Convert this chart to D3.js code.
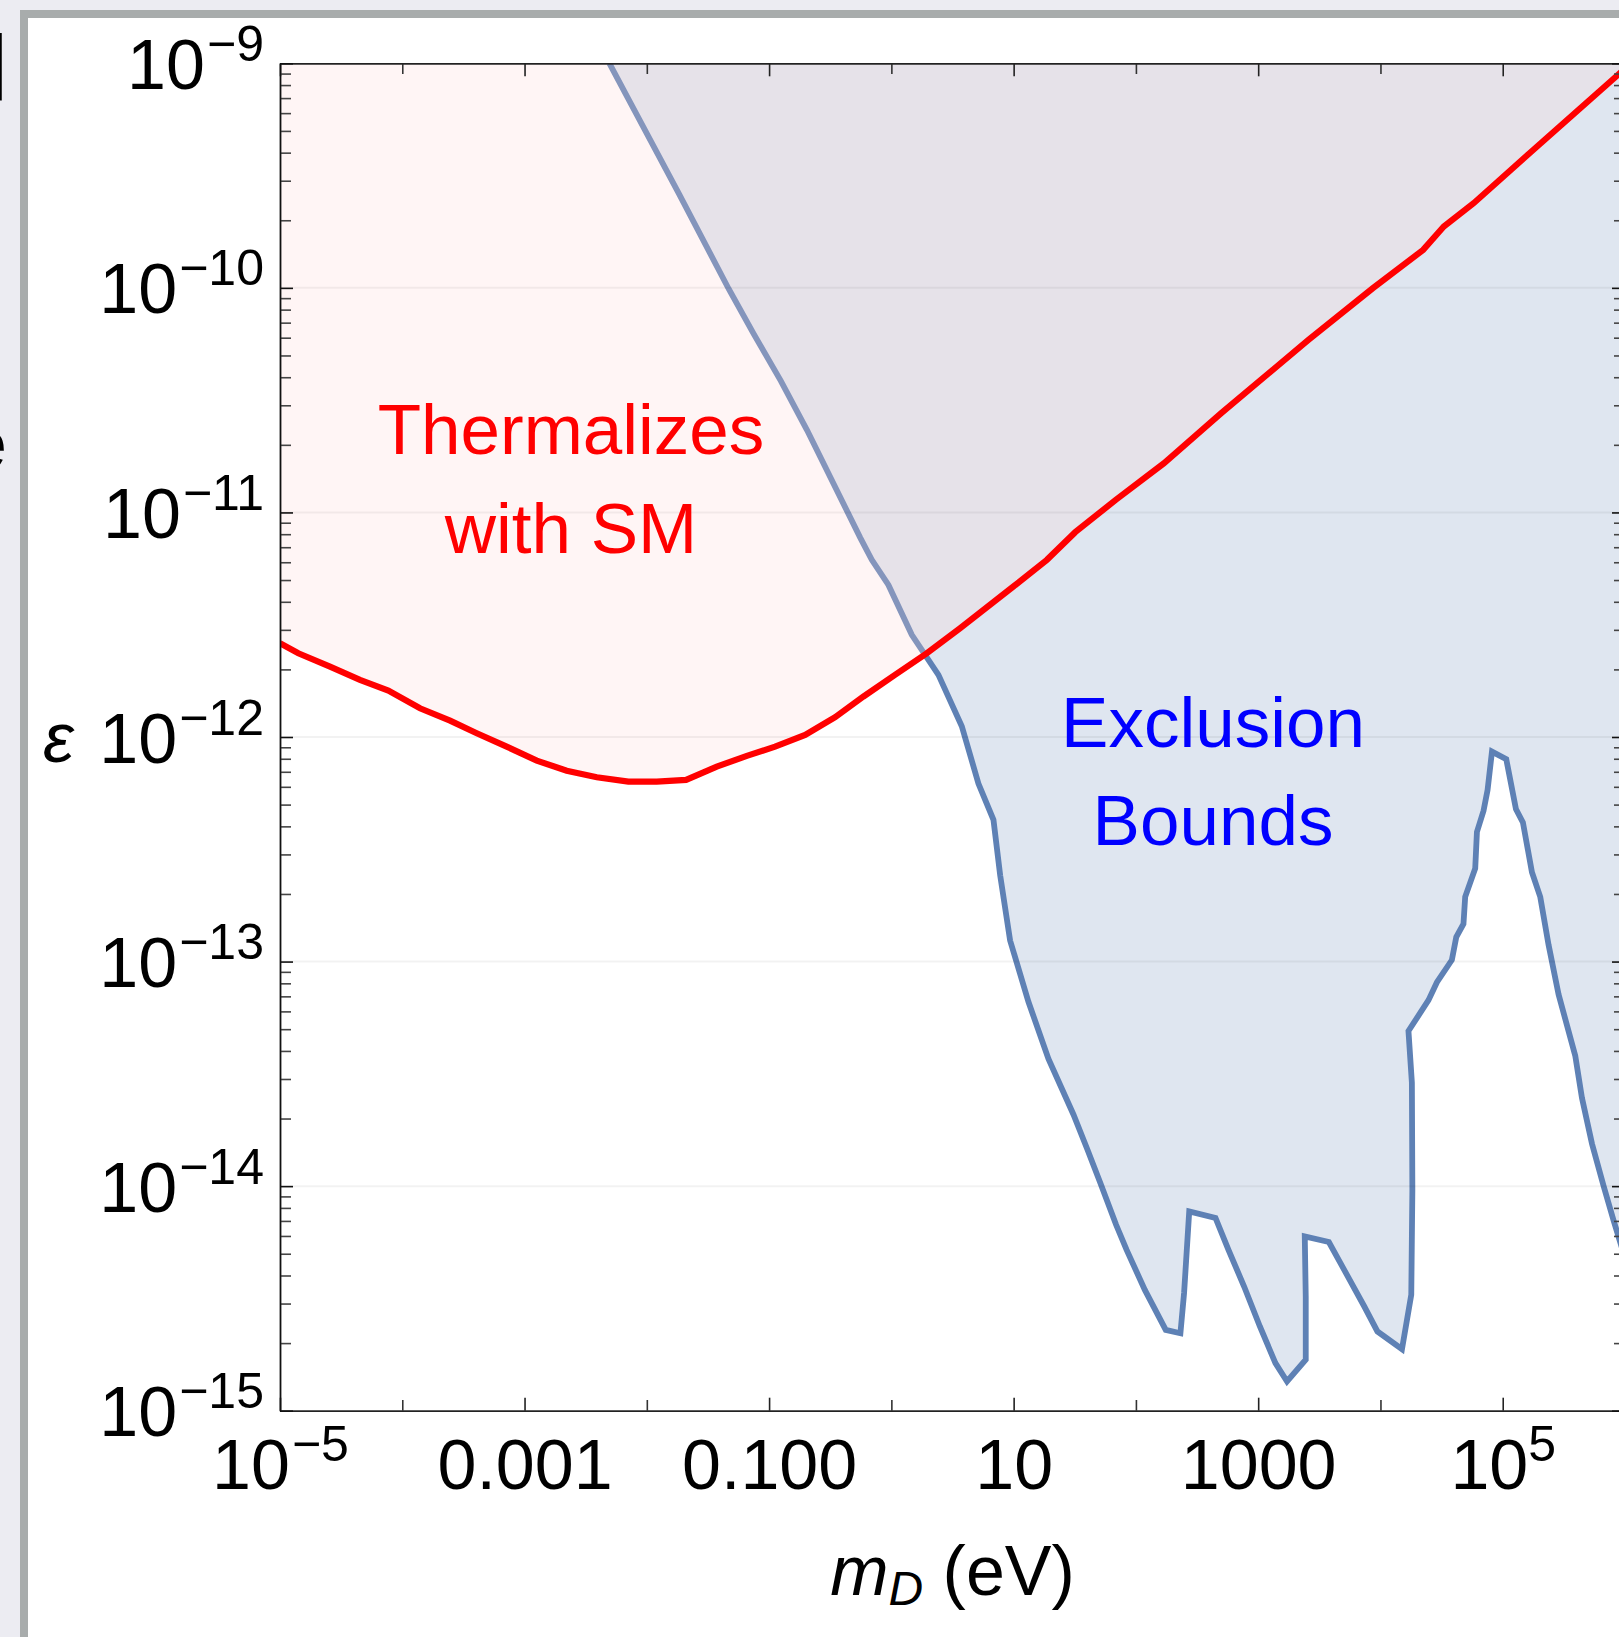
<!DOCTYPE html>
<html>
<head>
<meta charset="utf-8">
<script src="https://cdn.jsdelivr.net/npm/d3@7"></script>
<style>
  html, body { margin: 0; padding: 0; background: #ececf2; overflow: hidden; }
  svg { display: block; }
  text { font-family: "Liberation Sans", Arial, Helvetica, sans-serif; }
</style>
</head>
<body>
<div id="chart"></div>
<script>
// thermalization curve as log10 values
var thermMassExp = [-5.000, -4.850, -4.591, -4.346, -4.114, -3.855, -3.609, -3.391, -3.146, -2.900,
                    -2.655, -2.409, -2.151, -1.919, -1.679, -1.428, -1.182, -0.951, -0.705, -0.460,
                    -0.229, 0.031, 0.290, 0.562, 0.998, 1.272, 1.504, 1.835, 2.229, 2.698,
                    3.411, 3.937, 4.349, 4.518, 4.762, 5.249, 5.925, 6.000];
var thermEpsExp = [-11.582, -11.627, -11.687, -11.746, -11.793, -11.872, -11.927, -11.983, -12.043, -12.105,
                   -12.150, -12.179, -12.199, -12.199, -12.191, -12.132, -12.084, -12.043, -11.991, -11.912,
                   -11.820, -11.723, -11.627, -11.516, -11.330, -11.211, -11.088, -10.944, -10.781, -10.558,
                   -10.232, -10.002, -9.831, -9.727, -9.623, -9.386, -9.060, -9.024];

// exclusion bound, log10 values
var boundMassExp = [-2.306, -2.160, -1.740, -1.330, -1.126, -0.903, -0.690, -0.255, -0.160,
                    -0.024, 0.167, 0.385, 0.576, 0.712, 0.835, 0.890, 0.971, 1.121, 1.285,
                    1.489, 1.604, 1.710, 1.838, 1.924, 2.073, 2.244, 2.364, 2.394, 2.436,
                    2.651, 2.757, 2.885, 3.014, 3.141, 3.236, 3.389, 3.389, 3.381, 3.578,
                    3.718, 3.868, 3.975, 4.176, 4.252, 4.261, 4.257, 4.229, 4.393, 4.462,
                    4.584, 4.620, 4.679, 4.693, 4.775, 4.789, 4.843, 4.876, 4.912, 5.029,
                    5.108, 5.165, 5.239, 5.307, 5.375, 5.457, 5.593, 5.648, 5.730, 5.825,
                    5.906, 6.000];
var boundEpsExp = [-9.000, -9.149, -9.578, -10.005, -10.205, -10.415, -10.633, -11.112, -11.211,
                   -11.323, -11.545, -11.723, -11.952, -12.207, -12.369, -12.616, -12.906, -13.179, -13.434,
                   -13.681, -13.838, -13.987, -14.172, -14.284, -14.462, -14.640, -14.655, -14.476, -14.113,
                   -14.142, -14.284, -14.447, -14.625, -14.788, -14.870, -14.773, -14.492, -14.224, -14.249,
                   -14.387, -14.536, -14.647, -14.726, -14.484, -14.016, -13.539, -13.309, -13.172, -13.092,
                   -12.993, -12.891, -12.832, -12.712, -12.585, -12.423, -12.329, -12.236, -12.065, -12.099,
                   -12.321, -12.380, -12.602, -12.712, -12.926, -13.147, -13.419, -13.607, -13.811, -13.999,
                   -14.152, -14.320];

var xTickVals = [1e-5, 1e-3, 1e-1, 1e1, 1e3, 1e5];
var xTickLabels = ["10^\u22125", "0.001", "0.100", "10", "1000", "10^5"];
var yTickVals = [1e-9, 1e-10, 1e-11, 1e-12, 1e-13, 1e-14, 1e-15];
var yTickLabels = ["10^\u22129", "10^\u221210", "10^\u221211", "10^\u221212", "10^\u221213", "10^\u221214", "10^\u221215"];

var W = 1619, H = 1637;
var plotL = 280, plotR = 1625, plotT = 63.3, plotB = 1410.7;
var fontSize = 70, supSize = 50, supRise = 28;

var x = d3.scaleLog().domain([1e-5, 1e6]).range([plotL, plotR]);
var y = d3.scaleLog().domain([1e-15, 1e-9]).range([plotB, plotT]);

var thermData = thermMassExp.map(function(m, i) { return [Math.pow(10, m), Math.pow(10, thermEpsExp[i])]; });
var boundData = boundMassExp.map(function(m, i) { return [Math.pow(10, m), Math.pow(10, boundEpsExp[i])]; });

var svg = d3.select("#chart").append("svg")
    .attr("width", W)
    .attr("height", H);

var defs = svg.append("defs");
defs.append("clipPath").attr("id", "plotClip")
    .append("rect")
    .attr("x", plotL).attr("y", plotT)
    .attr("width", plotR - plotL).attr("height", plotB - plotT);
defs.append("clipPath").attr("id", "stripClip")
    .append("rect")
    .attr("x", 0).attr("y", 0).attr("width", 19).attr("height", H);

// page background and panel frame
svg.append("rect").attr("width", W).attr("height", H).attr("fill", "#ececf2");
svg.append("rect").attr("x", 20).attr("y", 10).attr("width", W).attr("height", H).attr("fill", "#a8acac");
svg.append("rect").attr("x", 28).attr("y", 18).attr("width", W).attr("height", H).attr("fill", "#ffffff");

// bits of the neighbouring panel that are cut off
var strip = svg.append("g").attr("clip-path", "url(#stripClip)").attr("fill", "#000");
strip.append("text").attr("x", -12.6).attr("y", 100).attr("font-size", 92).text("l");
strip.append("text").attr("x", -32).attr("y", 468).attr("font-size", 70).text("e");

var plot = svg.append("g").attr("clip-path", "url(#plotClip)");

var areaAbove = d3.area()
    .x(function(d) { return x(d[0]); })
    .y0(y(1e-9))
    .y1(function(d) { return y(d[1]); });

var line = d3.line()
    .x(function(d) { return x(d[0]); })
    .y(function(d) { return y(d[1]); });

// exclusion region
plot.append("path")
    .datum(boundData)
    .attr("d", areaAbove)
    .attr("fill", "#5e81b5")
    .attr("fill-opacity", 0.2);

plot.append("path")
    .datum(boundData)
    .attr("d", line)
    .attr("fill", "none")
    .attr("stroke", "#5e81b5")
    .attr("stroke-width", 5.8);

// thermalization region
plot.append("path")
    .datum(thermData)
    .attr("d", areaAbove)
    .attr("fill", "rgb(255,213,213)")
    .attr("fill-opacity", 0.24);

// grid lines
plot.selectAll(".grid")
    .data(yTickVals.slice(1, -1))
    .enter().append("line")
    .attr("class", "grid")
    .attr("x1", plotL).attr("x2", plotR)
    .attr("y1", function(d) { return y(d); })
    .attr("y2", function(d) { return y(d); })
    .attr("stroke", "#000")
    .attr("stroke-opacity", 0.05)
    .attr("stroke-width", 2);

plot.append("path")
    .datum(thermData)
    .attr("d", line)
    .attr("fill", "none")
    .attr("stroke", "#ff0000")
    .attr("stroke-width", 6.2);

// ticks
var decades = d3.range(-5, 7).map(function(e) { return Math.pow(10, e); });
var xMinor = decades.filter(function(d) { return xTickVals.indexOf(d) < 0; });
var yMinor = [];
d3.range(-15, -9).forEach(function(e) {
    d3.range(2, 10).forEach(function(k) { yMinor.push(k * Math.pow(10, e)); });
});

function styleAxis(g, color) {
    g.attr("font-family", null).attr("font-size", null).style("color", color);
    g.selectAll("line").attr("stroke-width", 1.6);
    g.select(".domain").attr("stroke-width", 1.5);
}

function fillLabel(sel, label) {
    var parts = label.split("^");
    sel.text(null);
    sel.append("tspan").text(parts[0]);
    if (parts[1]) {
        sel.append("tspan")
            .attr("font-size", supSize)
            .attr("dx", parts[1].charAt(0) == "\u2212" ? 2 : 0)
            .attr("dy", -supRise)
            .text(parts[1]);
    }
}

var bottomMinor = svg.append("g").attr("transform", "translate(0," + plotB + ")")
    .call(d3.axisBottom(x).tickValues(xMinor).tickSizeInner(-10.7).tickSizeOuter(0).tickFormat(""));
styleAxis(bottomMinor, "#333");

var bottomMajor = svg.append("g").attr("transform", "translate(0," + plotB + ")")
    .call(d3.axisBottom(x).tickValues(xTickVals).tickSizeInner(-13).tickSizeOuter(0)
        .tickFormat(function(d, i) { return xTickLabels[i]; }));
styleAxis(bottomMajor, "#222");
bottomMajor.selectAll(".tick text")
    .attr("y", 78.5).attr("dy", null)
    .attr("font-size", fontSize).attr("fill", "#000")
    .each(function(d, i) { fillLabel(d3.select(this), xTickLabels[i]); });

var topMinor = svg.append("g").attr("transform", "translate(0," + plotT + ")")
    .call(d3.axisTop(x).tickValues(xMinor).tickSizeInner(-10.7).tickSizeOuter(0).tickFormat(""));
styleAxis(topMinor, "#333");
var topMajor = svg.append("g").attr("transform", "translate(0," + plotT + ")")
    .call(d3.axisTop(x).tickValues(xTickVals).tickSizeInner(-13).tickSizeOuter(0).tickFormat(""));
styleAxis(topMajor, "#222");

var leftMinor = svg.append("g").attr("transform", "translate(" + plotL + ",0)")
    .call(d3.axisLeft(y).tickValues(yMinor).tickSizeInner(-11).tickSizeOuter(0).tickFormat(""));
styleAxis(leftMinor, "#444");
var leftMajor = svg.append("g").attr("transform", "translate(" + plotL + ",0)")
    .call(d3.axisLeft(y).tickValues(yTickVals).tickSizeInner(-13).tickSizeOuter(0)
        .tickFormat(function(d, i) { return yTickLabels[i]; }));
styleAxis(leftMajor, "#111");
leftMajor.selectAll(".tick text")
    .attr("x", -16).attr("dy", null).attr("y", 25)
    .attr("font-size", fontSize).attr("fill", "#000")
    .attr("text-anchor", "end")
    .each(function(d, i) { fillLabel(d3.select(this), yTickLabels[i]); });

var rightMinor = svg.append("g").attr("transform", "translate(" + plotR + ",0)")
    .call(d3.axisRight(y).tickValues(yMinor).tickSizeInner(-11).tickSizeOuter(0).tickFormat(""));
styleAxis(rightMinor, "#444");
var rightMajor = svg.append("g").attr("transform", "translate(" + plotR + ",0)")
    .call(d3.axisRight(y).tickValues(yTickVals).tickSizeInner(-13).tickSizeOuter(0).tickFormat(""));
styleAxis(rightMajor, "#111");

// axis titles
svg.append("text")
    .attr("x", 58.3).attr("y", 761.7)
    .attr("text-anchor", "middle")
    .attr("font-size", fontSize)
    .attr("font-style", "italic")
    .text("\u03b5");

var xTitle = svg.append("text")
    .attr("x", (plotL + plotR) / 2).attr("y", 1595)
    .attr("text-anchor", "middle")
    .attr("font-size", fontSize);
xTitle.append("tspan").attr("font-style", "italic").text("m");
xTitle.append("tspan").attr("font-style", "italic").attr("font-size", 48).attr("dy", 10).text("D");
xTitle.append("tspan").attr("dy", -10).text(" (eV)");

// region labels
var thermLabel = svg.append("text")
    .attr("text-anchor", "middle")
    .attr("font-size", 71)
    .attr("fill", "#ff0000");
thermLabel.append("tspan").attr("x", 571).attr("y", 453.5).text("Thermalizes");
thermLabel.append("tspan").attr("x", 571).attr("y", 553).text("with SM");

var boundLabel = svg.append("text")
    .attr("text-anchor", "middle")
    .attr("font-size", 71)
    .attr("fill", "#0000ff");
boundLabel.append("tspan").attr("x", 1213).attr("y", 746.6).text("Exclusion");
boundLabel.append("tspan").attr("x", 1213).attr("y", 845).text("Bounds");
</script>
</body>
</html>
